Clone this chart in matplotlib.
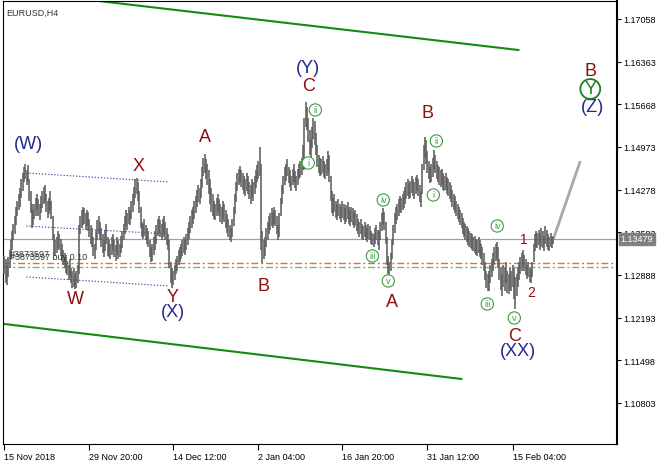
import matplotlib
matplotlib.use('Agg')
import matplotlib.pyplot as plt
from matplotlib.transforms import blended_transform_factory

plt.rcParams['font.family'] = ['Liberation Sans', 'DejaVu Sans']

# ---------------- data (prices in pips above 1.1000) ----------------
BASE = 1.10
PIP = 0.0001

HIGH = [
    320, 315, 305, 318, 330, 345, 360, 372, 385, 400,
    410, 420, 430, 445, 455, 465, 470, 460, 468, 445,
    425, 405, 395, 405, 415, 420, 412, 405, 418, 425,
    432, 435, 420, 410, 415, 425, 410, 385, 355, 345,
    350, 360, 355, 348, 340, 330, 325, 318, 312, 305,
    315, 300, 295, 300, 290, 295, 305, 370, 385, 395,
    400, 398, 390, 395, 392, 380, 370, 365, 350, 340,
    360, 378, 385, 375, 365, 355, 345, 360, 372, 350,
    345, 340, 350, 355, 345, 338, 350, 345, 340, 352,
    360, 372, 385, 395, 390, 400, 395, 410, 420, 432,
    445, 447, 440, 425, 400, 375, 372, 380, 370, 365,
    360, 345, 335, 340, 350, 360, 370, 380, 385, 378,
    372, 380, 385, 375, 365, 355, 345, 310, 300, 295,
    305, 315, 320, 330, 335, 340, 345, 350, 345, 355,
    365, 375, 385, 395, 400, 410, 418, 428, 435, 430,
    445, 465, 480, 486, 478, 470, 460, 445, 430, 420,
    410, 405, 415, 420, 412, 405, 400, 410, 405, 395,
    388, 380, 370, 365, 380, 400, 420, 440, 455, 462,
    466, 460, 455, 450, 445, 455, 450, 440, 435, 445,
    440, 450, 460, 468, 475, 497, 470, 360, 345, 350,
    365, 375, 385, 390, 398, 392, 400, 395, 385, 370,
    390, 415, 435, 450, 465, 470, 478, 465, 460, 450,
    462, 470, 458, 450, 462, 470, 475, 480, 500, 545,
    570, 562, 545, 525, 510, 530, 545, 540, 520, 500,
    485, 480, 478, 482, 475, 470, 478, 490, 485, 450,
    425, 415, 420, 410, 405, 412, 405, 400, 410, 405,
    398, 402, 408, 400, 395, 400, 398, 392, 395, 388,
    380, 375, 380, 372, 368, 375, 370, 365, 372, 368,
    360, 358, 355, 365, 370, 362, 360, 375, 390, 398,
    392, 375, 350, 320, 310, 325, 345, 370, 390, 400,
    405, 412, 418, 415, 420, 425, 432, 440, 445, 438,
    442, 450, 445, 440, 448, 452, 445, 435, 425, 470,
    500, 513, 508, 490, 475, 465, 470, 480, 492, 485,
    475, 468, 465, 460, 462, 455, 450, 455, 448, 445,
    440, 435, 428, 420, 418, 410, 405, 400, 395, 390,
    382, 375, 372, 368, 365, 360, 358, 355, 350, 352,
    348, 345, 350, 345, 340, 335, 325, 310, 295, 290,
    295, 305, 315, 325, 335, 340, 342, 335, 315, 300,
    290, 305, 300, 310, 295, 290, 300, 295, 305, 300,
    285, 290, 300, 310, 318, 325, 330, 322, 315, 305,
    310, 300, 298, 310, 340, 355, 360, 358, 362, 355,
    365, 360, 352, 368, 362, 355, 350, 358, 352, 350,
]

LOW = [
    290, 275, 272, 285, 300, 315, 330, 345, 355, 370,
    385, 395, 400, 415, 425, 440, 445, 435, 440, 410,
    390, 365, 370, 380, 385, 395, 385, 378, 390, 398,
    405, 408, 392, 382, 388, 395, 380, 345, 325, 320,
    325, 332, 330, 320, 312, 305, 300, 292, 288, 280,
    285, 275, 268, 270, 266, 268, 275, 290, 355, 365,
    370, 372, 362, 368, 360, 350, 340, 335, 320, 315,
    330, 345, 355, 345, 335, 325, 318, 328, 340, 320,
    318, 315, 322, 328, 318, 312, 322, 315, 318, 325,
    332, 345, 355, 368, 362, 372, 370, 380, 392, 402,
    415, 420, 410, 390, 365, 350, 348, 352, 345, 340,
    335, 318, 310, 312, 322, 330, 340, 352, 358, 350,
    345, 350, 355, 345, 338, 330, 300, 275, 268, 272,
    280, 290, 295, 305, 310, 315, 320, 325, 322, 330,
    338, 348, 358, 365, 372, 380, 390, 400, 408, 405,
    415, 430, 450, 455, 445, 435, 420, 405, 392, 385,
    380, 378, 385, 392, 385, 375, 372, 380, 375, 365,
    358, 350, 345, 342, 350, 368, 388, 408, 425, 435,
    440, 432, 428, 420, 418, 425, 420, 412, 405, 415,
    410, 420, 430, 440, 445, 450, 330, 308, 315, 320,
    335, 345, 355, 362, 368, 365, 372, 368, 355, 345,
    350, 385, 405, 420, 435, 442, 450, 438, 432, 425,
    435, 440, 430, 425, 435, 445, 448, 452, 460, 460,
    530, 525, 505, 485, 480, 495, 510, 500, 485, 465,
    455, 450, 452, 455, 448, 445, 450, 455, 440, 410,
    390, 385, 392, 382, 378, 385, 380, 375, 382, 378,
    372, 375, 380, 372, 368, 375, 370, 365, 368, 360,
    355, 350, 355, 348, 345, 350, 345, 342, 348, 345,
    340, 338, 335, 340, 345, 338, 330, 345, 360, 370,
    362, 340, 305, 290, 287, 295, 315, 338, 358, 372,
    378, 385, 392, 390, 395, 398, 405, 412, 418, 412,
    415, 422, 418, 412, 420, 425, 418, 408, 400, 420,
    460, 480, 470, 455, 445, 438, 440, 448, 460, 455,
    445, 440, 435, 432, 435, 428, 425, 428, 420, 418,
    412, 408, 400, 395, 390, 385, 380, 375, 370, 365,
    355, 350, 345, 342, 338, 335, 332, 330, 328, 325,
    322, 320, 325, 318, 315, 305, 295, 280, 268, 262,
    262, 275, 285, 295, 305, 312, 315, 300, 280, 265,
    255, 270, 262, 275, 260, 258, 265, 262, 270, 250,
    233, 255, 270, 280, 290, 295, 302, 295, 288, 282,
    285, 278, 276, 285, 310, 328, 335, 332, 338, 330,
    335, 332, 328, 340, 335, 330, 328, 335, 332, 340,
]

LAST_PRICE = 1.13479
ORDER_PRICE = 1.13078
STOP_PRICE = 1.13020

Y_TICKS = [1.10803, 1.11498, 1.12193, 1.12888, 1.13583,
           1.14278, 1.14973, 1.15668, 1.16363, 1.17058]
X_TICK_POS = [0, 65, 129, 194, 258, 323, 388]
X_TICK_LABELS = ['15 Nov 2018', '29 Nov 20:00', '14 Dec 12:00', '2 Jan 04:00',
                 '16 Jan 20:00', '31 Jan 12:00', '15 Feb 04:00']

# channel lines (bar index, price)
CHANNEL_UP = [(70.2, 1.17356), (392.4, 1.16553)]
CHANNEL_DN = [(0.0, 1.12090), (348.9, 1.11194)]
DOTTED = [
    [(16.8, 1.14550), (125.2, 1.14403)],
    [(16.8, 1.13686), (125.2, 1.13556)],
    [(16.8, 1.12856), (125.2, 1.12709)],
]
PROJECTION = [(419.1, 1.13475), (439.7, 1.14745)]

# wave labels: (bar index, price, text, kind)
LABELS = [
    (18.3, 1.15022, '(W)', 'navy'),
    (54.2, 1.12497, 'W', 'red'),
    (102.3, 1.14664, 'X', 'red'),
    (128.2, 1.12530, 'Y', 'red'),
    (129.0, 1.12286, '(X)', 'navy'),
    (153.4, 1.15152, 'A', 'red'),
    (197.7, 1.12709, 'B', 'red'),
    (232.0, 1.15967, 'C', 'red'),
    (232.0, 1.16260, '(Y)', 'navy'),
    (237.4, 1.15576, 'ii', 'circ'),
    (232.0, 1.14713, 'i', 'circ'),
    (281.0, 1.13198, 'iii', 'circ'),
    (289.3, 1.14110, 'iv', 'circ'),
    (293.1, 1.12791, 'v', 'circ'),
    (296.2, 1.12448, 'A', 'red'),
    (322.9, 1.15527, 'B', 'red'),
    (329.8, 1.15071, 'ii', 'circ'),
    (327.5, 1.14191, 'i', 'circ'),
    (376.3, 1.13686, 'iv', 'circ'),
    (368.7, 1.12416, 'iii', 'circ'),
    (389.3, 1.12188, 'v', 'circ'),
    (389.3, 1.11895, 'C', 'red'),
    (392.4, 1.11650, '(XX)', 'navy'),
    (396.2, 1.13475, '1', 'small'),
    (402.3, 1.12611, '2', 'small'),
    (447.3, 1.16211, 'B', 'red'),
    (447.3, 1.15918, 'Y', 'bigcirc'),
    (448.9, 1.15625, '(Z)', 'navy'),
]

# ---------------- drawing ----------------
W, H = 670, 464
fig = plt.figure(figsize=(W / 100, H / 100), dpi=100)
ax = fig.add_axes([3 / W, 19 / H, 614 / W, 443 / H])
ax.set_xlim(-1, -1 + 614 / 1.31)
ax.set_ylim(1.101348, 1.173512)

idx = list(range(len(HIGH)))
hi = [BASE + v * PIP for v in HIGH]
lo = [BASE + v * PIP for v in LOW]
ax.vlines(idx, lo, hi, color='#5e5e5e', lw=1.15, zorder=3)

# horizontal lines
ax.axhline(LAST_PRICE, color='#a0a0a0', lw=0.9, zorder=2)
ax.axhline(ORDER_PRICE, color='#f26a35', lw=1.0, dashes=(5, 2, 1.5, 2), zorder=2)
ax.axhline(STOP_PRICE, color='#6cb86c', lw=1.0, dashes=(5, 2, 1.5, 2), zorder=2)
ax.text(4, ORDER_PRICE + 0.0003, '#3873597 buy 0.10', fontsize=6.5,
        color='#333333', va='bottom', ha='left', zorder=4)
ax.text(4, ORDER_PRICE + 0.0008, '#3873597', fontsize=6.5,
        color='#333333', va='bottom', ha='left', zorder=4)

for line in (CHANNEL_UP, CHANNEL_DN):
    ax.plot([p[0] for p in line], [p[1] for p in line], color='#118c11', lw=1.5, zorder=2)
for line in DOTTED:
    ax.plot([p[0] for p in line], [p[1] for p in line], color='#4848a8', lw=0.8,
            dashes=(1.2, 1.6), zorder=2)
ax.plot([p[0] for p in PROJECTION], [p[1] for p in PROJECTION], color='#a8a8a8',
        lw=2.0, zorder=2, solid_capstyle='butt')

RED = '#8b0f0f'
NAVY = '#25258c'
GREEN = '#3c9c3c'
for x, y, t, kind in LABELS:
    if kind == 'red':
        ax.text(x, y, t, color=RED, fontsize=13, ha='center', va='center', zorder=6)
    elif kind == 'navy':
        ax.text(x, y, t, color=NAVY, fontsize=13, ha='center', va='center', zorder=6)
    elif kind == 'small':
        ax.text(x, y, t, color=RED, fontsize=10, ha='center', va='center', zorder=6)
    elif kind == 'circ':
        ax.text(x, y, t, color=GREEN, fontsize=6.5, ha='center', va='center', zorder=6,
                bbox=dict(boxstyle='circle,pad=0.18', fc='white', ec=GREEN, lw=0.8))
    elif kind == 'bigcirc':
        ax.text(x, y, t, color='#1f7f1f', fontsize=13, ha='center', va='center', zorder=7,
                bbox=dict(boxstyle='circle,pad=0.08', fc='none', ec='#1f7f1f', lw=1.3))

ax.text(0.005, 0.985, 'EURUSD,H4', transform=ax.transAxes, fontsize=6.5,
        color='#333333', ha='left', va='top')

# axes styling
for s in ['left', 'top', 'bottom']:
    ax.spines[s].set_color('black')
    ax.spines[s].set_linewidth(0.8)
ax.spines['right'].set_linewidth(1.5)
ax.yaxis.tick_right()
ax.set_yticks(Y_TICKS)
ax.set_yticklabels([f'{v:.5f}' for v in Y_TICKS])
ax.tick_params(axis='y', length=3, width=0.8, labelsize=6.5, pad=1.5, colors='black')
ax.set_xticks(X_TICK_POS)
ax.set_xticklabels(X_TICK_LABELS, ha='left')
ax.tick_params(axis='x', length=4, width=0.8, labelsize=6.5, pad=1.5)

trans = blended_transform_factory(ax.transAxes, ax.transData)
ax.text(1.006, LAST_PRICE, '1.13479', transform=trans, fontsize=6.5, color='white',
        ha='left', va='center', zorder=10, clip_on=False,
        bbox=dict(boxstyle='square,pad=0.15', fc='#808080', ec='#808080'))

fig.savefig('out.png', dpi=100)
